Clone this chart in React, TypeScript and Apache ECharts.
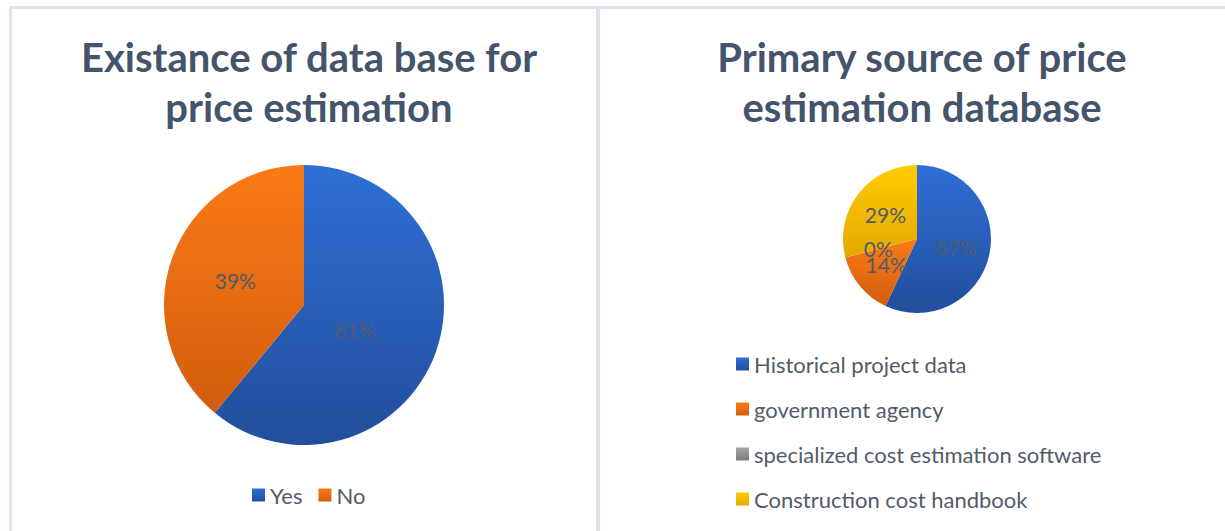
import React, { useEffect, useRef } from "react";
import * as echarts from "echarts";

const leftTitle = "Existance of data base for\nprice estimation";
const rightTitle = "Primary source of price\nestimation database";

const leftNames = ["Yes", "No"];
const leftValues = [61, 39];

const rightNames = [
  "Historical project data",
  "government agency",
  "specialized cost estimation software",
  "Construction cost handbook",
];
const rightValues = [57, 14, 0, 29];

const leftGradients = [
  ["#2f6fd6", "#224e9c"],
  ["#fb7a17", "#d25d0d"],
];
const rightGradients = [
  ["#2f6fd6", "#224e9c"],
  ["#fb7a17", "#d25d0d"],
  ["#a5a5a5", "#7d7d7d"],
  ["#ffcc00", "#e3a800"],
];
const leftLabelOffsets = [
  [-18, 0],
  [0, 0],
];

const FONT = "Lato";
const TITLE_COLOR = "#44546a";
const TEXT_COLOR = "#515c6b";
const BORDER = "#dde3ec";

function grad(c: string[]) {
  return new echarts.graphic.LinearGradient(0, 0, 0, 1, [
    { offset: 0, color: c[0] },
    { offset: 1, color: c[1] },
  ]);
}

export default function App() {
  const ref = useRef<HTMLDivElement>(null);
  useEffect(() => {
    if (!ref.current) return;
    const chart = echarts.init(ref.current, undefined, { renderer: "svg" });
    const titleStyle = { fontFamily: FONT, fontSize: 40, fontWeight: "bold", color: TITLE_COLOR, lineHeight: 50 };
    const labelStyle = {
      show: true,
      position: "inside",
      formatter: "{c}%",
      fontFamily: FONT,
      fontSize: 21,
      color: TEXT_COLOR,
    };
    chart.setOption({
      animation: false,
      backgroundColor: "#ffffff",
      graphic: [
        { type: "rect", shape: { x: 9, y: 6, width: 1216, height: 3 }, style: { fill: BORDER }, silent: true },
        { type: "rect", shape: { x: 9, y: 6, width: 3, height: 525 }, style: { fill: BORDER }, silent: true },
        { type: "rect", shape: { x: 596, y: 6, width: 4, height: 525 }, style: { fill: BORDER }, silent: true },
      ],
      title: [
        { text: leftTitle, left: 304, top: 27, textAlign: "center", textStyle: titleStyle },
        { text: rightTitle, left: 917, top: 27, textAlign: "center", textStyle: titleStyle },
      ],
      legend: [
        {
          data: leftNames,
          orient: "horizontal",
          left: 247,
          top: 479,
          icon: "rect",
          itemWidth: 13,
          itemHeight: 13,
          itemGap: 16,
          textStyle: { fontFamily: FONT, fontSize: 22, color: TEXT_COLOR, lineHeight: 22 },
        },
        {
          data: rightNames,
          orient: "vertical",
          left: 731,
          top: 348,
          icon: "rect",
          itemWidth: 13,
          itemHeight: 13,
          itemGap: 23,
          textStyle: { fontFamily: FONT, fontSize: 22, color: TEXT_COLOR, lineHeight: 22 },
        },
      ],
      series: [
        {
          type: "pie",
          center: [304, 305],
          radius: 140,
          startAngle: 90,
          clockwise: true,
          label: labelStyle,
          labelLine: { show: false },
          labelLayout: { hideOverlap: false },
          emphasis: { disabled: true },
          data: leftNames.map((n, i) => ({
            name: n,
            value: leftValues[i],
            itemStyle: { color: grad(leftGradients[i]) },
            label: { offset: leftLabelOffsets[i] },
          })),
        },
        {
          type: "pie",
          center: [917, 239],
          radius: 74,
          startAngle: 90,
          clockwise: true,
          minAngle: 0.01,
          minShowLabelAngle: 0,
          avoidLabelOverlap: false,
          label: labelStyle,
          labelLine: { show: false },
          labelLayout: { hideOverlap: false },
          emphasis: { disabled: true },
          data: rightNames.map((n, i) => ({
            name: n,
            value: rightValues[i],
            itemStyle: { color: grad(rightGradients[i]) },
            label: { show: true },
          })),
        },
      ],
    });
    return () => chart.dispose();
  }, []);
  return (
    <div
      ref={ref}
      style={{ position: "absolute", left: 0, top: 0, width: 1225, height: 531 }}
    />
  );
}
